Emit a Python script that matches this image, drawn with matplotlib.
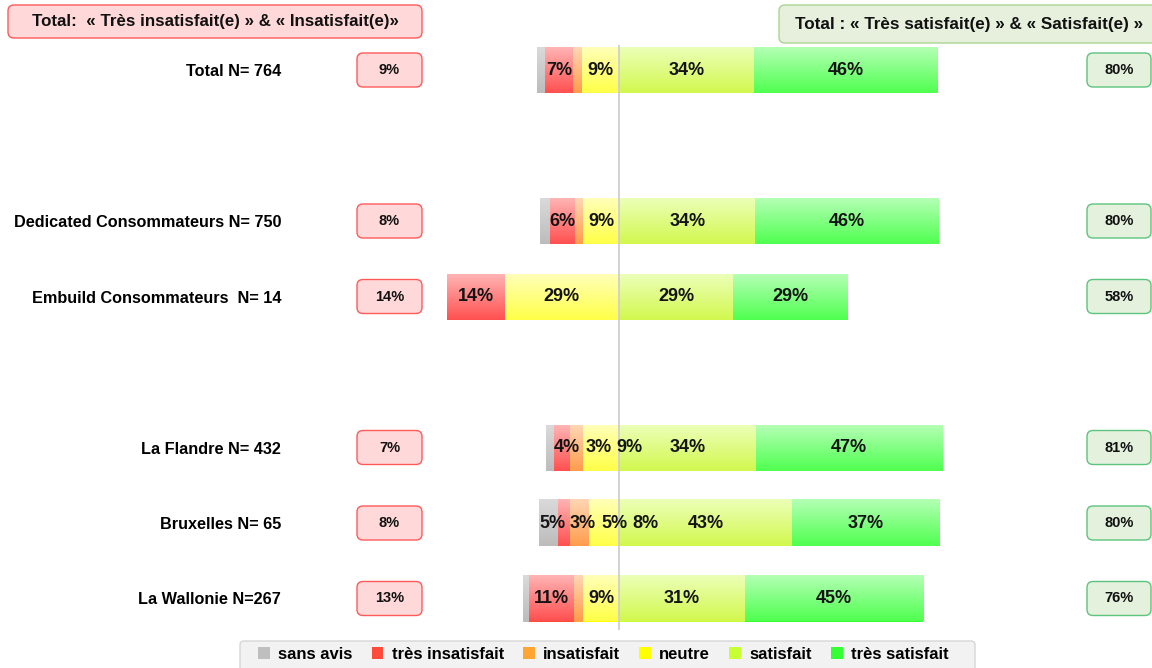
import matplotlib
matplotlib.use("Agg")
import matplotlib.pyplot as plt
from matplotlib.patches import FancyBboxPatch
from matplotlib.colors import to_rgb
import numpy as np

W, H, DPI = 1152, 668, 100

groups = ["Total N= 764", "Dedicated Consommateurs N= 750", "Embuild Consommateurs  N= 14",
          "La Flandre N= 432", "Bruxelles N= 65", "La Wallonie N=267"]
categories = ["sans avis", "très insatisfait", "insatisfait", "neutre", "satisfait", "très satisfait"]

# share of answers per group (%)
sans_avis = [2.0, 2.4, 0.0, 2.0, 4.8, 1.5]
tres_insatisfait = [6.8, 6.3, 14.3, 4.0, 3.0, 11.2]
insatisfait = [2.4, 2.1, 0.0, 3.2, 4.6, 2.2]
neutre = [9.2, 8.9, 28.6, 9.0, 7.6, 9.0]
satisfait = [33.8, 34.1, 28.6, 34.2, 43.2, 31.4]
tres_satisfait = [45.8, 45.9, 28.6, 46.6, 37.0, 44.6]

total_insatisfait = [9, 8, 14, 7, 8, 13]
total_satisfait = [80, 80, 58, 81, 80, 76]

header_left = "Total:  « Très insatisfait(e) » & « Insatisfait(e)»"
header_right = "Total : « Très satisfait(e) » & « Satisfait(e) »"

# layout
row_pos = [0, 2, 3, 5, 6, 7]
legend_colors = ['#bfbfbf', '#ff4b3b', '#ffa533', '#ffff00', '#c8ff33', '#33ff33']
grad_top = ['#dadada', '#ffb4b4', '#ffd6b4', '#ffffb8', '#ecffb8', '#b4ffb4']
grad_bot = ['#bcbcbc', '#ff5050', '#ff9c4c', '#ffff48', '#d2f84e', '#50ff50']

plt.rcParams['font.family'] = ['Liberation Sans', 'DejaVu Sans']
plt.rcParams['font.weight'] = 'bold'

fig = plt.figure(figsize=(W / DPI, H / DPI), dpi=DPI)
fig.patch.set_facecolor('white')

# bar axes: pixel box 300..1080 x 45..630, 4 px per %, 0 at x=619
ax_l, ax_r, ax_t, ax_b = 300, 1080, 45, 630
ax = fig.add_axes([ax_l / W, 1 - ax_b / H, (ax_r - ax_l) / W, (ax_b - ax_t) / H])
px_per_pct = 4.0
row_px = 75.5
xlim = ((ax_l - 619) / px_per_pct, (ax_r - 619) / px_per_pct)
ylim = ((ax_b - 70) / row_px, (ax_t - 70) / row_px)

series = [sans_avis, tres_insatisfait, insatisfait, neutre, satisfait, tres_satisfait]
bar_h = 46 / row_px
lefts = -(np.array(sans_avis) + np.array(tres_insatisfait) + np.array(insatisfait) + np.array(neutre))
segments = []
for k, vals in enumerate(series):
    vals = np.array(vals)
    bars = ax.barh(row_pos, vals, left=lefts, height=bar_h, color=legend_colors[k],
                   label=categories[k], linewidth=0, zorder=1)
    top, bot = np.array(to_rgb(grad_top[k])), np.array(to_rgb(grad_bot[k]))
    t = np.linspace(0, 1, 100)[:, None]
    grad = (top * (1 - t) + bot * t)[:, None, :]
    for b in bars:
        if b.get_width() <= 0:
            continue
        x0, y0 = b.get_x(), b.get_y()
        ax.imshow(grad, extent=[x0, x0 + b.get_width(), y0 + b.get_height(), y0],
                  origin='upper', aspect='auto', interpolation='bilinear', zorder=2)
    segments.append(list(zip(lefts.copy(), vals)))
    lefts = lefts + vals

ax.axvline(0, color='#cfcfcf', lw=1.3, zorder=5)

ax.set_xlim(*xlim)
ax.set_ylim(*ylim)
ax.set_yticks(row_pos)
ax.set_yticklabels(groups, fontsize=11.7, fontweight='bold')
ax.tick_params(axis='y', length=0, pad=(ax_l - 281) * 72 / DPI)
ax.set_xticks([])
for s in ax.spines.values():
    s.set_visible(False)
ax.patch.set_alpha(0)

# overlay in pixel coordinates for boxes
ov = fig.add_axes([0, 0, 1, 1], zorder=-1)
ov.set_xlim(0, W)
ov.set_ylim(H, 0)
ov.axis('off')


def box(x, y, w, h, fc, ec, text=None, fs=10, lw=1.0, rs=6):
    ov.add_patch(FancyBboxPatch((x, y), w, h, boxstyle=f"round,pad=0,rounding_size={rs}",
                                fc=fc, ec=ec, lw=lw, clip_on=False))
    if text:
        ov.text(x + w / 2, y + h / 2, text, ha='center', va='center', fontsize=fs,
                fontweight='bold', color='#111111')


box(8, 5, 414, 33, '#ffd9d9', '#ff5a5a', header_left, 12.2)
box(779, 5, 380, 38, '#e6f0dd', '#a9d58f', header_right, 12.3)
box(240, 641, 735, 40, '#f2f2f2', '#d6d6d6', rs=4)

fig.canvas.draw()
renderer = fig.canvas.get_renderer()
for i, r in enumerate(row_pos):
    yc = H - ax.transData.transform((0, r))[1]
    box(357, yc - 17, 65, 34, '#ffd9d9', '#ff5a5a', f"{total_insatisfait[i]}%", 10.5)
    box(1087, yc - 17, 64, 34, '#e3f1dd', '#5cc47c', f"{total_satisfait[i]}%", 10.5)

# segment labels, pushed right when they collide
pct_per_px = 1 / px_per_pct
gap = 5 * pct_per_px
for i, r in enumerate(row_pos):
    prev_end = -np.inf
    for k in range(len(series)):
        left, width = segments[k][i]
        v = round(width)
        if v < 3:
            continue
        t = ax.text(0, r, f"{v}%", ha='left', va='center', fontsize=13,
                    fontweight='bold', color='#141414', zorder=6)
        tw = t.get_window_extent(renderer).width * pct_per_px
        x = left + (width - tw) / 2 if tw <= width else left
        x = max(x, prev_end + gap)
        t.set_x(x)
        prev_end = x + tw

leg = ax.legend(loc='upper left', bbox_to_anchor=(258 / W, 1 - 647 / H),
                bbox_transform=fig.transFigure, ncol=6, frameon=False,
                prop={'weight': 'bold', 'size': 12}, handlelength=0.7, handleheight=0.7,
                handletextpad=0.5, columnspacing=1.15, borderpad=0, borderaxespad=0)

fig.savefig("out.png", dpi=DPI)
